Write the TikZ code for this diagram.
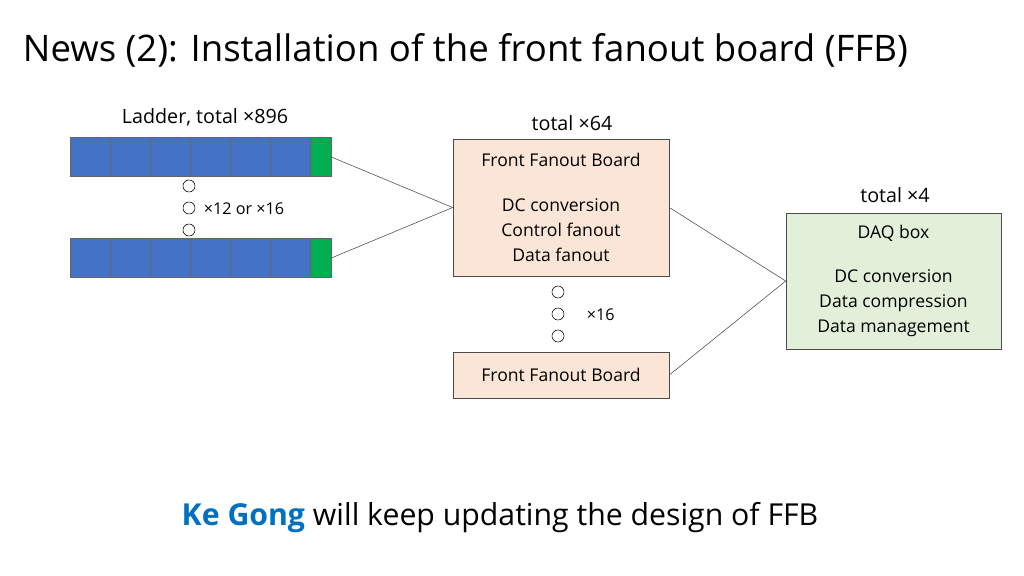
\documentclass[tikz,border=0pt]{standalone}
\usepackage{fontspec}
\setmainfont{Open Sans}
\usetikzlibrary{positioning}
\definecolor{ladderblue}{RGB}{68,114,196}
\definecolor{laddergreen}{RGB}{0,176,80}
\definecolor{ffbcolor}{RGB}{251,229,214}
\definecolor{daqcolor}{RGB}{226,240,217}
\definecolor{namecolor}{RGB}{0,112,192}
\tikzset{
    % Boxes
    boardbox/.style={draw=black!70, fill=ffbcolor, minimum width=5.4cm, align=center, font=\fontsize{12.5}{17.75}\selectfont},
    daqbox/.style={draw=black!70, fill=daqcolor, minimum width=5.375cm, minimum height=3.4cm, align=center, font=\fontsize{12.5}{17.75}\selectfont},
    cell/.style={draw=black!60, fill=ladderblue, minimum width=1cm, minimum height=0.975cm, inner sep=0pt},
    endcell/.style={draw=black!60, fill=laddergreen, minimum width=0.525cm, minimum height=0.975cm, inner sep=0pt},
    dot/.style={draw, circle, minimum size=0.3cm, inner sep=0pt},
    wire/.style={draw=black!70, thin},
    countlabel/.style={font=\fontsize{14}{16}\selectfont},
}
\begin{document}
\begin{tikzpicture}[x=0.025cm, y=-0.025cm]
\useasboundingbox (0,0) rectangle (1024,576);

% Title
\node[anchor=west, font=\fontsize{26}{30}\selectfont] (title) at (18,50) {News (2): Installation of the front fanout board (FFB)};

% Ladders
\foreach \row/\y in {a/157, b/258} {
    \foreach \i in {0,...,5}
        \node[cell] (\row\i) at (90+40*\i,\y) {};
    \node[endcell] (\row end) at (320.5,\y) {};
}
\node[countlabel] (ladderlabel) at (205,117) {Ladder, total ×896};
\node[dot] (ld1) at (189,186) {};
\node[dot] (ld2) at (189,208) {};
\node[dot] (ld3) at (189,230) {};
\node[anchor=west, font=\fontsize{11.5}{14}\selectfont] (ldcount) at (199,209) {×12 or ×16};

% Front fanout boards
\node[countlabel] (ffbtotal) at (572,123) {total ×64};
\node[boardbox, minimum height=3.425cm] (ffb1) at (561,207.5) {Front Fanout Board\\[1.1em] DC conversion\\ Control fanout\\ Data fanout};
\node[dot] (fd1) at (558,292) {};
\node[dot] (fd2) at (558,314) {};
\node[dot] (fd3) at (558,336) {};
\node[anchor=west, font=\fontsize{11.5}{14}\selectfont] (fdcount) at (582,315) {×16};
\node[boardbox, minimum height=1.15cm] (ffb2) at (561,375) {Front Fanout Board};

% DAQ
\node[countlabel] (daqtotal) at (895,195) {total ×4};
\node[daqbox] (daq) at (893.5,281) {DAQ box\\[1.1em] DC conversion\\ Data compression\\ Data management};

% Connections
\coordinate (ffbin) at (ffb1.west);
\coordinate (daqin) at (daq.west);
\draw[wire] (aend.east) -- (ffbin);
\draw[wire] (bend.east) -- (ffbin);
\draw[wire] (ffb1.east) -- (daqin);
\draw[wire] (ffb2.east) -- (daqin);

% Bottom note
\node[font=\fontsize{21.5}{26}\selectfont] (note) at (500,518) {\textcolor{namecolor}{\textbf{Ke Gong}} will keep updating the design of FFB};
\end{tikzpicture}
\end{document}
